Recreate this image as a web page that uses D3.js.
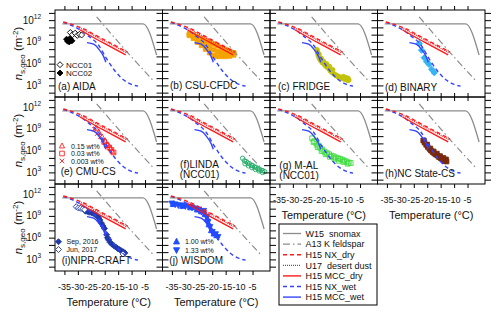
<!DOCTYPE html>
<html>
<head>
<meta charset="utf-8">
<script src="https://cdn.jsdelivr.net/npm/d3@7"></script>
<style>
  body { margin: 0; background: #fff; }
  text { font-family: "Liberation Sans", Arial, sans-serif; fill: #111; }
</style>
</head>
<body>
<div id="chart"></div>
<script>
// ******************** data: [temperature (°C), log10 ns,geo (m-2)] ********************

// reference parameterisations, drawn in every panel
const w15Snomax   = [[-35.8, 11.5], [-5.7, 11.5], [-0.7, 7.2]];
const a13Feldspar = [[-23.0, 12.45], [-12.5, 7.95], [-1.8, 3.6]];
const h15NxDry    = [[-35.4, 11.75], [-32.5, 11.45], [-29.5, 11.05], [-20.5, 9.35], [-11.5, 7.6]];
const u17Dust     = [[-29.5, 10.95], [-20.5, 9.2], [-11.8, 7.5]];
const h15MccDry   = [[-29.2, 10.65], [-20.5, 8.85], [-12.2, 7.2]];
const h15NxWet    = [[-35.4, 11.7], [-32, 11.2], [-28.5, 10.5], [-26, 9.8], [-22.2, 8.5], [-19.5, 6.8],
                     [-16.6, 5.2], [-13.4, 3.9], [-10.5, 3.2], [-7.6, 2.9]];
const h15MccWet   = [[-26.6, 8.9], [-24.1, 8.68], [-22.2, 8.0], [-20.3, 6.9], [-19.6, 6.2]];

// (a) AIDA
const aidaNcc01 = [[-32.8, 10.3], [-32.0, 10.0], [-31.0, 10.2], [-30.2, 9.9], [-29.4, 10.05], [-28.6, 9.95]];
const aidaNcc02 = [[-34.2, 9.37], [-33.5, 9.28], [-32.9, 9.46], [-32.2, 9.15], [-33.2, 9.0], [-33.8, 9.1]];

// (b) CSU-CFDC
const csuCfdc = [
  [-28.5, 10.15], [-27, 9.95], [-25.5, 9.7], [-24, 9.45], [-22.5, 9.2], [-21, 8.95],
  [-19.5, 8.7], [-18, 8.45], [-16.5, 8.2], [-15, 7.95], [-13.5, 7.7], [-12, 7.5],
  [-28.5, 10.0], [-27, 9.7], [-25.5, 9.3], [-24, 8.95], [-22.5, 8.6], [-21, 8.2],
  [-19.5, 7.9], [-18, 7.7], [-16.5, 7.6], [-15, 7.45], [-13.5, 7.35], [-12, 7.35],
  [-28.5, 9.9], [-27, 9.5], [-25.5, 8.95], [-24, 8.5], [-22.5, 8.0], [-21, 7.5],
  [-19.5, 7.1], [-18, 7.0], [-16.5, 7.0], [-15, 7.0], [-13.5, 7.05], [-12, 7.2]
];

// (c) FRIDGE
const fridge = [
  [-21.0, 7.9], [-20.8, 7.5], [-20.5, 7.1], [-20.1, 6.7], [-19.6, 6.4], [-19.0, 6.15],
  [-18.4, 5.95], [-17.8, 5.7], [-17.2, 5.5], [-16.6, 5.3], [-16.0, 5.0], [-15.4, 4.8],
  [-14.8, 4.6], [-14.2, 4.45], [-13.6, 4.3], [-13.0, 4.2], [-12.3, 4.1], [-11.6, 4.0],
  [-11.0, 3.9], [-10.3, 3.85], [-9.6, 3.7], [-9.2, 3.75],
  [-20.3, 7.3], [-19.4, 6.7], [-18.6, 6.3], [-17.5, 5.95], [-16.4, 5.6], [-15.2, 5.15],
  [-11.2, 4.2], [-10.2, 4.05], [-9.5, 3.95]
];

// (d) BINARY
const binary = [[-23.0, 8.78], [-22.1, 7.86], [-21.1, 6.82], [-20.2, 6.27], [-19.3, 5.9], [-18.3, 5.21], [-17.4, 4.76]];

// (e) CMU-CS
const cmu015  = [[-23.2, 9.1], [-22.2, 8.55], [-21.0, 7.9], [-19.8, 7.3], [-18.8, 6.8], [-17.8, 6.3], [-17.0, 5.85]];
const cmu003  = [[-20.2, 7.2], [-19.3, 6.75], [-18.3, 6.45], [-17.5, 6.1], [-16.7, 5.75]];
const cmu0003 = [[-23.8, 8.95], [-22.8, 8.35], [-21.6, 7.95], [-20.6, 7.5], [-19.0, 6.6]];

// (f) LINDA (NCC01)
const linda = [
  [-8.7, 4.95], [-8.0, 4.6], [-7.4, 4.5], [-6.8, 4.3], [-6.2, 4.2], [-5.5, 4.0], [-5.0, 3.95],
  [-4.3, 3.75], [-3.7, 3.7], [-3.0, 3.5], [-2.5, 3.45], [-1.8, 3.3], [-1.2, 3.25], [-0.5, 3.1],
  [-7.8, 4.2], [-6.5, 3.9], [-5.2, 3.65], [-3.9, 3.4], [-2.6, 3.2], [-1.3, 3.0]
];

// (g) M-AL (NCC01)
const mal = [
  [-22.8, 7.7], [-22.0, 7.3], [-21.2, 6.95], [-20.5, 6.7], [-19.8, 6.4], [-19.0, 6.15],
  [-18.2, 5.85], [-17.3, 5.65], [-16.5, 5.5], [-15.6, 5.3], [-14.8, 5.2], [-14.0, 5.05],
  [-13.2, 4.95], [-12.4, 4.85], [-11.6, 4.75], [-10.8, 4.6], [-10.0, 4.5], [-9.2, 4.35], [-8.5, 4.3],
  [-22.3, 7.2], [-20.8, 6.5], [-19.3, 5.95], [-17.8, 5.5], [-16.2, 5.15], [-14.5, 4.9],
  [-12.9, 4.6], [-11.2, 4.45], [-9.6, 4.2]
];

// (h) NC State-CS
const ncState = [
  [-21.5, 7.4], [-21.0, 7.1], [-20.4, 6.8], [-19.8, 6.5], [-19.2, 6.25], [-18.6, 6.0],
  [-18.0, 5.8], [-17.4, 5.6], [-16.8, 5.45], [-16.2, 5.3], [-15.6, 5.1], [-15.0, 4.95],
  [-14.4, 4.8], [-13.8, 4.7], [-13.2, 4.55], [-12.8, 4.5],
  [-21.2, 7.4], [-20.0, 6.85], [-18.8, 6.3], [-17.6, 5.9], [-16.4, 5.6], [-15.2, 5.25],
  [-14.0, 5.0], [-13.0, 4.8]
];

// (i) NIPR-CRAFT
const niprSep2016 = [
  [-27.2, 9.65], [-26.5, 9.6], [-25.8, 9.5], [-25.0, 9.45], [-24.3, 9.35], [-23.6, 9.2],
  [-22.9, 9.05], [-22.3, 8.8], [-21.8, 8.45], [-21.2, 8.0], [-20.6, 7.6], [-20.1, 7.25],
  [-19.3, 6.4], [-19.0, 6.0], [-18.6, 5.7], [-18.0, 5.35], [-17.3, 5.1], [-16.6, 4.9],
  [-15.9, 4.7], [-15.2, 4.5], [-14.5, 4.35], [-13.8, 4.2], [-13.1, 4.05], [-12.5, 3.9]
];
const niprJun2017 = [[-30.6, 10.27], [-29.8, 10.1], [-29.0, 10.05], [-28.2, 9.95], [-27.5, 9.85], [-13.2, 3.75]];

// (j) WISDOM
const wisdom100 = [[-34.5, 10.6], [-31.0, 10.35], [-28.0, 10.15], [-25.5, 9.85], [-24.0, 9.6], [-22.5, 9.2],
                   [-21.8, 8.6], [-21.2, 7.8], [-20.3, 7.0], [-19.3, 6.55], [-18.3, 6.3]];
const wisdom133 = [[-35.0, 10.74], [-33.8, 10.62], [-32.6, 10.5], [-31.3, 10.44], [-30.0, 10.37], [-28.8, 10.28],
                   [-27.5, 10.18], [-26.2, 10.05], [-25.0, 9.91], [-23.2, 9.72], [-22.1, 8.89], [-21.65, 8.2],
                   [-20.9, 7.51], [-20.0, 6.82], [-18.8, 6.5], [-17.9, 6.13]];

// axis ticks
const xTickValues = [-35, -30, -25, -20, -15, -10, -5];
const yLabelExps  = [3, 6, 9, 12];

// ******************** layout ********************
const width = 500, height = 315;
const colX = [55, 162.5, 270, 377.5];
const rowY = [10, 97, 184];
const pw = 107.5, ph = 87;

const svg = d3.select("#chart")
    .append("svg")
    .attr("width", width)
    .attr("height", height);

// shared scales (every panel uses the same axes)
const x = d3.scaleLinear().domain([-38.5, 1.5]).range([0, pw]);
const y = d3.scaleLog().domain([10 ** 1.4, 10 ** 13.4]).range([ph, 0]);
const px = d => x(d[0]);
const py = d => y(10 ** d[1]);

// simple marker shapes
function marker(type, r) {
    if (type === "diamond") return `M0,${-r}L${r},0L0,${r}L${-r},0Z`;
    if (type === "square") return `M${-r},${-r}h${2 * r}v${2 * r}h${-2 * r}Z`;
    if (type === "up") return `M0,${-r * 1.15}L${r},${r * 0.75}L${-r},${r * 0.75}Z`;
    if (type === "down") return `M0,${r * 1.15}L${r},${-r * 0.75}L${-r},${-r * 0.75}Z`;
    if (type === "cross") return `M${-r},${-r}L${r},${r}M${-r},${r}L${r},${-r}`;
    // circle
    return `M${r},0A${r},${r} 0 1 1 ${-r},0A${r},${r} 0 1 1 ${r},0Z`;
}

// reference line styles
const refLines = [
    { data: w15Snomax,   color: "#8c8c8c", dash: null,          w: 1.3, name: "W15  snomax" },
    { data: a13Feldspar, color: "#8c8c8c", dash: "7,3,1.5,3",   w: 1.2, name: "A13 K feldspar" },
    { data: h15NxDry,    color: "#ff1a1a", dash: "4,3",         w: 1.4, name: "H15 NX_dry" },
    { data: u17Dust,     color: "#ff1a1a", dash: "1,1",         w: 1.3, name: "U17  desert dust" },
    { data: h15MccDry,   color: "#ff1a1a", dash: null,          w: 1.4, name: "H15 MCC_dry" },
    { data: h15NxWet,    color: "#3344ff", dash: "4,3",         w: 1.4, name: "H15 NX_wet" },
    { data: h15MccWet,   color: "#3344ff", dash: null,          w: 1.4, name: "H15 MCC_wet" }
];
// draw order: gray, blue, red on top
const drawOrder = [0, 1, 5, 6, 3, 4, 2];

const line = d3.line().x(px).y(py).curve(d3.curveMonotoneX);

// panels with their data series
const panels = [
    { col: 0, row: 0, label: ["(a) AIDA"], lx: 3, ly: 79.5, series: [
        { data: aidaNcc02, shape: "diamond", r: 3, fill: "#000", stroke: "#000" },
        { data: aidaNcc01, shape: "diamond", r: 3, fill: "#fff", stroke: "#000" }] },
    { col: 1, row: 0, label: ["(b) CSU-CFDC"], lx: 7.5, ly: 78.5, series: [
        { data: csuCfdc, shape: "square", r: 2.2, fill: "#f5a300", stroke: "#f5a300" }] },
    { col: 2, row: 0, label: ["(c) FRIDGE"], lx: 8, ly: 79.5, series: [
        { data: fridge, shape: "circle", r: 2.4, fill: "#c2c20a", stroke: "#c2c20a" }] },
    { col: 3, row: 0, label: ["(d) BINARY"], lx: 7.5, ly: 80.5, series: [
        { data: binary, shape: "diamond", r: 3.2, fill: "#35b6f2", stroke: "#35b6f2" }] },
    { col: 0, row: 1, label: ["(e) CMU-CS"], lx: 5.7, ly: 78.2, series: [
        { data: cmu015, shape: "up", r: 2.6, fill: "none", stroke: "#ff2020" },
        { data: cmu003, shape: "square", r: 2.3, fill: "none", stroke: "#ff2020" },
        { data: cmu0003, shape: "cross", r: 2.3, fill: "none", stroke: "#ff2020" }] },
    { col: 1, row: 1, label: ["(f)LINDA", "(NCC01)"], lx: 37, ly: 70.8, center: true, series: [
        { data: linda, shape: "circle", r: 2.2, fill: "none", stroke: "#22aa66" }] },
    { col: 2, row: 1, label: ["(g) M-AL", "(NCC01)"], lx: 9.3, ly: 71.5, series: [
        { data: mal, shape: "square", r: 2.4, fill: "none", stroke: "#3fdb3f" }] },
    { col: 3, row: 1, label: ["(h)NC State-CS"], lx: 7.5, ly: 79.8, series: [
        { data: ncState, shape: "square", r: 2.3, fill: "#7a2a0c", stroke: "#7a2a0c" }] },
    { col: 0, row: 2, label: ["(i)NIPR-CRAFT"], lx: 6.7, ly: 79.5, series: [
        { data: niprSep2016, shape: "diamond", r: 3, fill: "#1f3aa8", stroke: "#1f3aa8" },
        { data: niprJun2017, shape: "diamond", r: 3, fill: "#fff", stroke: "#1f3aa8" }] },
    { col: 1, row: 2, label: ["(j) WISDOM"], lx: 6.8, ly: 80.2, series: [
        { data: wisdom133, shape: "down", r: 3, fill: "#1e4dff", stroke: "#1e4dff" },
        { data: wisdom100, shape: "up", r: 3, fill: "#1e4dff", stroke: "#1e4dff" }] }
];

// panels that carry x tick labels
const xLabelled = new Set(["2,1", "3,1", "0,2", "1,2"]);

panels.forEach((p, i) => {
    const g = svg.append("g")
        .attr("transform", `translate(${colX[p.col]},${rowY[p.row]})`);

    // clip everything to the plot box
    g.append("clipPath").attr("id", "clip" + i)
        .append("rect").attr("width", pw).attr("height", ph);
    const plot = g.append("g").attr("clip-path", `url(#clip${i})`);

    // data markers first, reference lines on top
    p.series.forEach(s => {
        plot.selectAll(null)
            .data(s.data)
            .enter()
            .append("path")
            .attr("transform", d => `translate(${px(d)},${py(d)})`)
            .attr("d", marker(s.shape, s.r))
            .attr("fill", s.fill)
            .attr("stroke", s.stroke)
            .attr("stroke-width", 0.9);
    });

    drawOrder.forEach(k => {
        const r = refLines[k];
        plot.append("path")
            .datum(r.data)
            .attr("fill", "none")
            .attr("stroke", r.color)
            .attr("stroke-width", r.w)
            .attr("stroke-dasharray", r.dash)
            .attr("d", line);
    });

    // frame and ticks on all four sides, pointing outward
    g.append("rect")
        .attr("width", pw).attr("height", ph)
        .attr("fill", "none").attr("stroke", "#000").attr("stroke-width", 1);

    const yTickVals = d3.range(2, 14).map(e => 10 ** e);
    g.append("g").call(d3.axisLeft(y).tickValues(yTickVals).tickSize(6).tickFormat(""))
        .call(a => a.select(".domain").remove());
    g.append("g").attr("transform", `translate(${pw},0)`)
        .call(d3.axisRight(y).tickValues(yTickVals).tickSize(6).tickFormat(""))
        .call(a => a.select(".domain").remove());
    g.append("g")
        .call(d3.axisTop(x).tickValues(xTickValues).tickSize(4).tickFormat(""))
        .call(a => a.select(".domain").remove());
    g.append("g").attr("transform", `translate(0,${ph})`)
        .call(d3.axisBottom(x).tickValues(xTickValues).tickSize(4).tickFormat(""))
        .call(a => a.select(".domain").remove());

    // panel label
    p.label.forEach((t, j) => {
        g.append("text")
            .attr("x", p.lx)
            .attr("y", p.ly + j * 10.5)
            .attr("text-anchor", p.center ? "middle" : "start")
            .attr("font-size", 10)
            .text(t);
    });

    // x tick labels and axis title
    if (xLabelled.has(`${p.col},${p.row}`)) {
        xTickValues.forEach(v => {
            g.append("text")
                .attr("x", x(v))
                .attr("y", ph + 19)
                .attr("text-anchor", "middle")
                .attr("font-size", 9)
                .text(v);
        });
        g.append("text")
            .attr("x", pw / 2)
            .attr("y", ph + 34.5)
            .attr("text-anchor", "middle")
            .attr("font-size", 11)
            .text("Temperature (°C)");
    }

    // y tick labels and axis title on the first column
    if (p.col === 0) {
        yLabelExps.forEach(e => {
            const t = g.append("text")
                .attr("x", -14)
                .attr("y", y(10 ** e) + 3.5)
                .attr("text-anchor", "end")
                .attr("font-size", 10);
            t.append("tspan").text("10");
            t.append("tspan").attr("font-size", 6.5).attr("dy", -4.5).text(e);
        });
        const title = g.append("text")
            .attr("transform", `translate(-33,${ph / 2}) rotate(-90)`)
            .attr("text-anchor", "middle")
            .attr("font-size", 11.5);
        title.append("tspan").attr("font-style", "italic").text("n");
        title.append("tspan").attr("font-size", 8).attr("dy", 2.5).text("s,geo");
        title.append("tspan").attr("dy", -2.5).text(" (m");
        title.append("tspan").attr("font-size", 8).attr("dy", -4.5).text("-2");
        title.append("tspan").attr("dy", 4.5).text(")");
    }
});

// ******************** in-panel legends ********************
function smallLegend(col, row, items, mx, tx, y0, step, fs) {
    const g = svg.append("g").attr("transform", `translate(${colX[col]},${rowY[row]})`);
    items.forEach((it, i) => {
        g.append("path")
            .attr("transform", `translate(${mx},${y0 + i * step})`)
            .attr("d", marker(it.shape, it.r))
            .attr("fill", it.fill)
            .attr("stroke", it.stroke)
            .attr("stroke-width", 0.9);
        g.append("text")
            .attr("x", tx)
            .attr("y", y0 + i * step + fs * 0.36)
            .attr("font-size", fs)
            .text(it.text);
    });
}
smallLegend(0, 0, [
    { shape: "diamond", r: 3, fill: "#fff", stroke: "#000", text: "NCC01" },
    { shape: "diamond", r: 3, fill: "#000", stroke: "#000", text: "NCC02" }], 5, 11, 54.7, 8.3, 8);
smallLegend(0, 1, [
    { shape: "up", r: 2.6, fill: "none", stroke: "#ff2020", text: "0.15 wt%" },
    { shape: "square", r: 2.3, fill: "none", stroke: "#ff2020", text: "0.03 wt%" },
    { shape: "cross", r: 2.3, fill: "none", stroke: "#ff2020", text: "0.003 wt%" }], 7, 16, 49, 7.5, 7);
smallLegend(0, 2, [
    { shape: "diamond", r: 3, fill: "#1f3aa8", stroke: "#1f3aa8", text: "Sep, 2016" },
    { shape: "diamond", r: 3, fill: "#fff", stroke: "#1f3aa8", text: "Jun, 2017" }], 3.5, 11.5, 57.7, 7.8, 7);
smallLegend(1, 2, [
    { shape: "up", r: 3, fill: "#1e4dff", stroke: "#1e4dff", text: "1.00 wt%" },
    { shape: "down", r: 3, fill: "#1e4dff", stroke: "#1e4dff", text: "1.33 wt%" }], 14, 22.5, 57.7, 8.3, 7);

// ******************** reference line legend ********************
const legend = svg.append("g").attr("transform", "translate(279,224)");
legend.append("rect")
    .attr("width", 98).attr("height", 81)
    .attr("fill", "#fff").attr("stroke", "#000").attr("stroke-width", 1);
refLines.forEach((r, i) => {
    const ly = 9.5 + i * 10.6;
    legend.append("line")
        .attr("x1", 4).attr("x2", 22)
        .attr("y1", ly).attr("y2", ly)
        .attr("stroke", r.color)
        .attr("stroke-width", r.w)
        .attr("stroke-dasharray", r.dash);
    legend.append("text")
        .attr("x", 26.5).attr("y", ly + 3.2)
        .attr("font-size", 9)
        .attr("xml:space", "preserve")
        .text(r.name);
});
</script>
</body>
</html>
